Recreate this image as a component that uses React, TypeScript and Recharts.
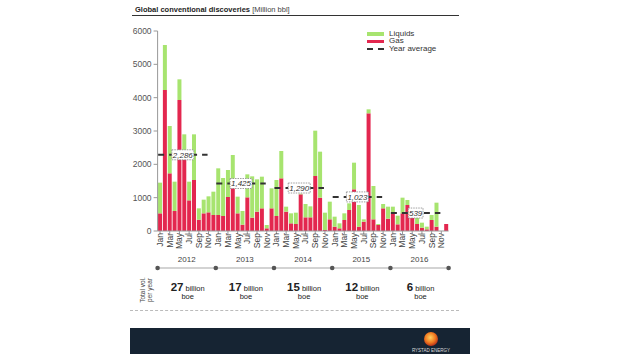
import React from "react"
import { Bar, BarChart, ReferenceLine, XAxis, YAxis } from "recharts"

const years = ["2012", "2013", "2014", "2015", "2016"]
const months = ["Jan", "Feb", "Mar", "Apr", "May", "Jun", "Jul", "Aug", "Sep", "Oct", "Nov", "Dec"]

// Million bbl per month
const gas = [
    530, 4230, 1730, 600, 3930, 2150, 920, 1530, 340, 530, 560, 480,
    480, 450, 1020, 1300, 530, 190, 1010, 400, 580, 680, 80, 680,
    450, 1580, 580, 230, 210, 1100, 410, 410, 1650, 1000, 30, 350,
    130, 80, 330, 630, 1250, 130, 280, 3530, 350, 180, 680, 370,
    530, 200, 530, 780, 430, 210, 100, 50, 330, 130, 0, 210,
]
const liquids = [
    920, 1350, 1420, 880, 620, 750, 560, 1370, 340, 410, 480, 700,
    1400, 1140, 810, 980, 500, 410, 690, 1240, 970, 950, 100, 600,
    1080, 820, 150, 300, 340, 20, 400, 330, 1360, 1380, 520, 530,
    300, 150, 200, 200, 800, 650, 70, 120, 1000, 30, 130, 360,
    200, 260, 470, 150, 200, 200, 150, 80, 150, 720, 0, 0,
]
const yearAverages = [2286, 1425, 1290, 1023, 539]
const yearTotals = [27, 17, 15, 12, 6]
const yTicks = [0, 1000, 2000, 3000, 4000, 5000, 6000]
const timelineTicks = [0, 6, 12, 18, 24, 30, 36, 42, 48, 54, 60]

const GREEN = "#a7e46f"
const RED = "#e3274f"
const FONT = 'Arial, "Liberation Sans", sans-serif'

const data = gas.map((g, i) => ({
    key: `${years[Math.floor(i / 12)]}-${months[i % 12]}`,
    idx: i + 0.5,
    gas: g,
    liquids: liquids[i],
}))

function MonthTick({ x, y, payload }: any) {
    const m = String(payload.value).split("-")[1]
    return (
        <g transform={`translate(${x},${y - 1})`}>
            <text transform="rotate(-90)" textAnchor="end" dy="0.34em" fontSize={8.5} fill="#444" fontFamily={FONT}>
                {m}
            </text>
        </g>
    )
}

function YearTick({ x, y, payload }: any) {
    const v = payload.value as number
    if (v % 12 === 0) return <circle cx={x} cy={y} r={2.3} fill="#555" />
    const k = Math.floor(v / 12)
    return (
        <g fontFamily={FONT}>
            <text x={x} y={y - 6} textAnchor="middle" fontSize={8} fill="#444">
                {years[k]}
            </text>
            <text x={x + 1} y={y + 22.5} textAnchor="middle" fill="#222">
                <tspan fontSize={11.5} fontWeight="bold">{yearTotals[k]}</tspan>
                <tspan fontSize={7.5}> billion</tspan>
            </text>
            <text x={x + 1} y={y + 31} textAnchor="middle" fontSize={7.5} fill="#222">
                boe
            </text>
        </g>
    )
}

function avgLabel(value: number) {
    return (props: any) => {
        const vb = props.viewBox || {}
        const cx = (vb.x ?? 0) + (vb.width ?? 0) / 2
        const cy = vb.y ?? 0
        const text = value.toLocaleString("en-US")
        const w = text.length * 3.6 + 4
        return (
            <g>
                <rect x={cx - w / 2} y={cy - 5} width={w} height={10} fill="#fff" stroke="#888" strokeWidth={0.8} strokeDasharray="1.5 1" />
                <text x={cx} y={cy} dy="0.35em" textAnchor="middle" fontSize={8} fontStyle="italic" fill="#333" fontFamily={FONT}>
                    {text}
                </text>
            </g>
        )
    }
}

export default function App() {
    return (
        <div style={{ position: "absolute", left: 0, top: 0, width: 620, height: 354, background: "#fff", fontFamily: FONT, overflow: "hidden" }}>
            <div style={{ position: "absolute", left: 135, top: 4.5, fontSize: 7.5, color: "#222", whiteSpace: "nowrap" }}>
                <b>Global conventional discoveries</b> <span style={{ color: "#444" }}>[Million bbl]</span>
            </div>
            <div style={{ position: "absolute", left: 132, top: 15, width: 327, height: 1, background: "#333" }} />

            <BarChart
                width={620}
                height={354}
                data={data}
                margin={{ top: 31, right: 171.4, left: 117.6, bottom: 46 }}
                barCategoryGap="9%"
                style={{ position: "absolute", left: 0, top: 0 }}
            >
                <XAxis
                    xAxisId="m"
                    dataKey="key"
                    interval={1}
                    height={37}
                    tick={<MonthTick />}
                    tickSize={3}
                    tickMargin={0}
                    stroke="#999"
                />
                <XAxis
                    xAxisId="yr"
                    dataKey="idx"
                    type="number"
                    domain={[0, 60]}
                    ticks={timelineTicks}
                    interval={0}
                    height={40}
                    tickLine={false}
                    tickSize={0}
                    tickMargin={0}
                    axisLine={{ stroke: "#c4c4c4", strokeWidth: 1.6 }}
                    tick={<YearTick />}
                />
                <YAxis
                    width={40}
                    domain={[0, 6000]}
                    ticks={yTicks}
                    interval={0}
                    tickSize={4}
                    tickMargin={2}
                    stroke="#999"
                    tick={{ fontSize: 8.5, fill: "#555", fontFamily: FONT }}
                />
                <Bar xAxisId="m" dataKey="gas" stackId="a" fill={RED} isAnimationActive={false} />
                <Bar xAxisId="m" dataKey="liquids" stackId="a" fill={GREEN} isAnimationActive={false} />
                {yearAverages.map((avg, k) => (
                    <ReferenceLine
                        key={years[k]}
                        xAxisId="yr"
                        segment={[
                            { x: k * 12 + 0.1, y: avg },
                            { x: k * 12 + 10.3, y: avg },
                        ]}
                        stroke="#333"
                        strokeWidth={2}
                        strokeDasharray="6 5"
                        label={avgLabel(avg)}
                    />
                ))}
            </BarChart>

            <div style={{ position: "absolute", left: 367, top: 30, fontSize: 8, color: "#333", lineHeight: "8px" }}>
                {[
                    { name: "Liquids", kind: "g" },
                    { name: "Gas", kind: "r" },
                    { name: "Year average", kind: "d" },
                ].map((it) => (
                    <div key={it.name} style={{ display: "flex", alignItems: "center", height: 7.5 }}>
                        {it.kind === "d" ? (
                            <svg width={17} height={4} style={{ marginRight: 5 }}>
                                <line x1={0} y1={2} x2={17} y2={2} stroke="#333" strokeWidth={2} strokeDasharray="6 5" />
                            </svg>
                        ) : (
                            <div style={{ width: 17, height: 3.5, background: it.kind === "g" ? GREEN : RED, marginRight: 5 }} />
                        )}
                        <span>{it.name}</span>
                    </div>
                ))}
            </div>

            <div
                style={{
                    position: "absolute",
                    left: 146,
                    top: 290,
                    transform: "translate(-50%,-50%) rotate(-90deg)",
                    fontSize: 6.5,
                    lineHeight: "6.5px",
                    color: "#444",
                    textAlign: "center",
                    whiteSpace: "nowrap",
                }}
            >
                Total vol.
                <br />
                per year
            </div>

            <div style={{ position: "absolute", left: 130, top: 310, width: 329, borderTop: "1px dashed #bbb" }} />

            <div style={{ position: "absolute", left: 130, top: 328, width: 340, height: 26, background: "#162433" }}>
                <svg width={340} height={26} style={{ position: "absolute", left: 0, top: 0 }}>
                    <defs>
                        <radialGradient id="lg" cx="45%" cy="40%" r="60%">
                            <stop offset="0%" stopColor="#ffd060" />
                            <stop offset="60%" stopColor="#f07a20" />
                            <stop offset="100%" stopColor="#b8321a" />
                        </radialGradient>
                    </defs>
                    <circle cx={301} cy={11} r={7} fill="url(#lg)" />
                    <text x={301} y={24} textAnchor="middle" fontSize={4.5} fill="#ddd" fontFamily={FONT}>
                        RYSTAD ENERGY
                    </text>
                </svg>
            </div>
        </div>
    )
}
